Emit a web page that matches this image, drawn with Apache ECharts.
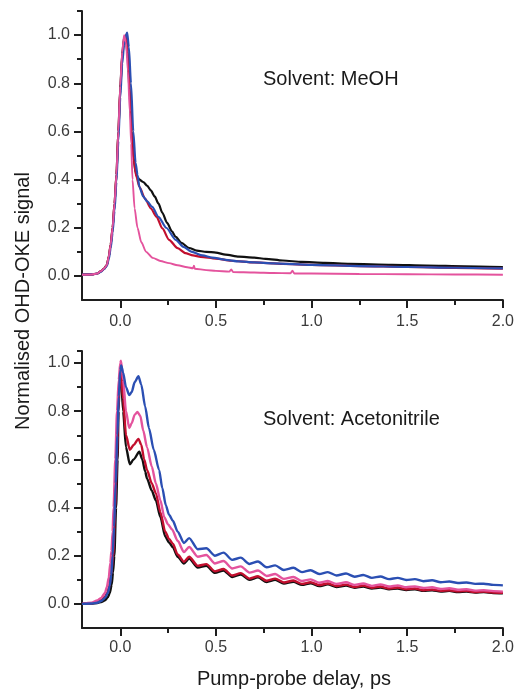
<!DOCTYPE html>
<html>
<head>
<meta charset="utf-8">
<script src="https://cdn.jsdelivr.net/npm/echarts@6/dist/echarts.min.js"></script>
<style>
  html, body { margin: 0; padding: 0; background: #fff; }
  #chart { width: 517px; height: 690px; }
</style>
</head>
<body>
<div id="chart"></div>
<script>
// OHD-OKE transients, [delay (ps), normalised signal]

// Methanol panel
const meohBlack = [[-0.2,0.005],[-0.15,0.006],[-0.12,0.01],[-0.1,0.02],[-0.085,0.03],[-0.07,0.045],[-0.06,0.08],[-0.05,0.13],[-0.04,0.2],[-0.03,0.3],[-0.02,0.42],[-0.01,0.6],[0.0,0.78],[0.01,0.92],[0.02,0.99],[0.03,0.98],[0.04,0.9],[0.05,0.74],[0.06,0.6],[0.07,0.49],[0.08,0.43],[0.09,0.41],[0.1,0.4],[0.12,0.39],[0.14,0.375],[0.16,0.355],[0.18,0.33],[0.2,0.3],[0.22,0.262],[0.245,0.22],[0.27,0.185],[0.29,0.162],[0.32,0.137],[0.36,0.116],[0.4,0.105],[0.45,0.1],[0.5,0.097],[0.55,0.088],[0.62,0.08],[0.7,0.076],[0.76,0.071],[0.85,0.064],[0.95,0.058],[1.07,0.054],[1.2,0.05],[1.42,0.046],[1.6,0.043],[1.8,0.04],[2.0,0.037]];
const meohRed = [[-0.2,0.005],[-0.15,0.006],[-0.12,0.01],[-0.1,0.02],[-0.085,0.03],[-0.07,0.045],[-0.06,0.08],[-0.05,0.13],[-0.04,0.2],[-0.03,0.3],[-0.02,0.42],[-0.01,0.6],[0.0,0.77],[0.01,0.91],[0.02,0.98],[0.03,1.0],[0.04,0.93],[0.05,0.78],[0.06,0.6],[0.07,0.48],[0.085,0.41],[0.1,0.37],[0.13,0.32],[0.16,0.28],[0.19,0.245],[0.22,0.197],[0.255,0.15],[0.3,0.115],[0.34,0.095],[0.38,0.085],[0.42,0.079],[0.5,0.072],[0.58,0.063],[0.7,0.056],[0.85,0.05],[1.0,0.046],[1.25,0.041],[1.5,0.037],[1.75,0.033],[2.0,0.03]];
const meohBlue = [[-0.2,0.005],[-0.15,0.006],[-0.12,0.01],[-0.1,0.018],[-0.085,0.028],[-0.07,0.042],[-0.06,0.07],[-0.05,0.115],[-0.04,0.18],[-0.03,0.27],[-0.02,0.39],[-0.01,0.56],[0.0,0.74],[0.01,0.88],[0.02,0.96],[0.03,1.0],[0.036,1.01],[0.045,0.95],[0.056,0.8],[0.068,0.6],[0.08,0.47],[0.09,0.42],[0.1,0.37],[0.12,0.33],[0.14,0.31],[0.167,0.287],[0.2,0.245],[0.24,0.2],[0.29,0.15],[0.33,0.121],[0.375,0.1],[0.43,0.085],[0.48,0.076],[0.55,0.067],[0.62,0.06],[0.7,0.056],[0.8,0.052],[1.0,0.046],[1.25,0.041],[1.5,0.037],[1.75,0.034],[2.0,0.031]];
const meohPink = [[-0.2,0.005],[-0.15,0.006],[-0.12,0.01],[-0.1,0.02],[-0.085,0.03],[-0.07,0.045],[-0.06,0.08],[-0.05,0.13],[-0.04,0.2],[-0.03,0.3],[-0.02,0.42],[-0.01,0.6],[0.0,0.79],[0.01,0.93],[0.02,1.0],[0.03,0.97],[0.04,0.85],[0.05,0.68],[0.057,0.55],[0.064,0.4],[0.075,0.28],[0.09,0.2],[0.11,0.14],[0.135,0.1],[0.17,0.075],[0.21,0.062],[0.255,0.053],[0.3,0.044],[0.35,0.036],[0.38,0.032],[0.385,0.042],[0.39,0.03],[0.45,0.024],[0.5,0.021],[0.57,0.018],[0.58,0.027],[0.59,0.016],[0.7,0.014],[0.8,0.012],[0.89,0.011],[0.9,0.022],[0.91,0.01],[1.0,0.01],[1.25,0.008],[1.5,0.007],[1.75,0.006],[2.0,0.005]];

// Acetonitrile panel
const acnBlack = [[-0.2,0.0],[-0.15,0.002],[-0.12,0.004],[-0.1,0.008],[-0.08,0.015],[-0.065,0.028],[-0.055,0.045],[-0.045,0.08],[-0.038,0.13],[-0.031,0.2],[-0.022,0.4],[-0.014,0.6],[-0.009,0.8],[-0.003,0.93],[0.003,0.96],[0.015,0.8],[0.03,0.65],[0.05,0.58],[0.07,0.6],[0.1,0.632],[0.115,0.6],[0.13,0.55],[0.14,0.52],[0.165,0.47],[0.186,0.43],[0.21,0.36],[0.235,0.28],[0.255,0.255],[0.275,0.235],[0.3,0.196],[0.333,0.168],[0.36,0.188],[0.405,0.151],[0.45,0.158],[0.495,0.129],[0.54,0.139],[0.585,0.112],[0.63,0.122],[0.675,0.1],[0.72,0.11],[0.765,0.091],[0.81,0.1],[0.855,0.085],[0.905,0.092],[0.95,0.079],[0.995,0.086],[1.04,0.074],[1.085,0.081],[1.13,0.07],[1.18,0.076],[1.225,0.067],[1.27,0.072],[1.315,0.064],[1.36,0.068],[1.405,0.061],[1.45,0.064],[1.495,0.058],[1.54,0.061],[1.585,0.054],[1.63,0.057],[1.675,0.051],[1.72,0.054],[1.765,0.049],[1.81,0.051],[1.855,0.047],[1.9,0.049],[1.95,0.045],[2.0,0.044]];
const acnRed = [[-0.2,0.0],[-0.15,0.003],[-0.12,0.008],[-0.1,0.015],[-0.08,0.03],[-0.068,0.045],[-0.058,0.07],[-0.048,0.12],[-0.037,0.2],[-0.027,0.4],[-0.018,0.6],[-0.011,0.8],[-0.004,0.93],[0.002,0.98],[0.015,0.85],[0.03,0.7],[0.05,0.64],[0.07,0.66],[0.095,0.685],[0.11,0.66],[0.125,0.6],[0.14,0.556],[0.165,0.5],[0.186,0.46],[0.21,0.38],[0.235,0.3],[0.255,0.27],[0.275,0.25],[0.3,0.205],[0.333,0.175],[0.36,0.196],[0.405,0.158],[0.45,0.165],[0.495,0.135],[0.54,0.145],[0.585,0.118],[0.63,0.128],[0.675,0.105],[0.72,0.115],[0.765,0.096],[0.81,0.105],[0.855,0.089],[0.905,0.097],[0.95,0.083],[0.995,0.09],[1.04,0.078],[1.085,0.085],[1.13,0.074],[1.18,0.08],[1.225,0.07],[1.27,0.076],[1.315,0.067],[1.36,0.072],[1.405,0.064],[1.45,0.068],[1.495,0.061],[1.54,0.064],[1.585,0.057],[1.63,0.06],[1.675,0.054],[1.72,0.057],[1.765,0.052],[1.81,0.054],[1.855,0.049],[1.9,0.051],[1.95,0.047],[2.0,0.046]];
const acnPink = [[-0.2,0.0],[-0.15,0.005],[-0.12,0.014],[-0.1,0.025],[-0.08,0.045],[-0.07,0.07],[-0.06,0.11],[-0.052,0.17],[-0.046,0.22],[-0.04,0.3],[-0.035,0.4],[-0.026,0.6],[-0.017,0.8],[-0.008,0.93],[0.0,1.0],[0.004,1.01],[0.015,0.93],[0.03,0.8],[0.047,0.73],[0.06,0.75],[0.075,0.785],[0.09,0.797],[0.105,0.78],[0.12,0.72],[0.14,0.65],[0.165,0.57],[0.186,0.5],[0.21,0.43],[0.23,0.36],[0.25,0.33],[0.27,0.31],[0.3,0.262],[0.333,0.215],[0.36,0.236],[0.405,0.196],[0.45,0.203],[0.495,0.168],[0.54,0.178],[0.585,0.147],[0.63,0.156],[0.675,0.13],[0.72,0.139],[0.765,0.116],[0.81,0.124],[0.855,0.104],[0.905,0.112],[0.95,0.095],[0.995,0.102],[1.04,0.088],[1.085,0.095],[1.13,0.083],[1.18,0.09],[1.225,0.079],[1.27,0.085],[1.315,0.075],[1.36,0.081],[1.405,0.072],[1.45,0.077],[1.495,0.069],[1.54,0.073],[1.585,0.066],[1.63,0.069],[1.675,0.062],[1.72,0.065],[1.765,0.059],[1.81,0.061],[1.855,0.055],[1.9,0.057],[1.95,0.053],[2.0,0.051]];
const acnBlue = [[-0.2,0.0],[-0.15,0.002],[-0.12,0.005],[-0.1,0.012],[-0.08,0.025],[-0.065,0.045],[-0.055,0.075],[-0.047,0.12],[-0.04,0.2],[-0.032,0.32],[-0.024,0.5],[-0.015,0.7],[-0.008,0.86],[0.0,0.97],[0.005,0.99],[0.015,0.96],[0.03,0.9],[0.047,0.867],[0.06,0.88],[0.075,0.92],[0.095,0.945],[0.11,0.91],[0.13,0.82],[0.15,0.73],[0.175,0.64],[0.203,0.556],[0.22,0.48],[0.238,0.41],[0.255,0.37],[0.275,0.345],[0.3,0.3],[0.333,0.253],[0.36,0.273],[0.405,0.227],[0.45,0.231],[0.495,0.2],[0.54,0.213],[0.585,0.183],[0.63,0.192],[0.675,0.166],[0.72,0.176],[0.765,0.152],[0.81,0.16],[0.855,0.141],[0.905,0.15],[0.95,0.132],[0.995,0.14],[1.04,0.124],[1.085,0.132],[1.13,0.118],[1.18,0.126],[1.225,0.113],[1.27,0.12],[1.315,0.108],[1.36,0.114],[1.405,0.103],[1.45,0.108],[1.495,0.099],[1.54,0.103],[1.585,0.094],[1.63,0.098],[1.675,0.09],[1.72,0.093],[1.765,0.087],[1.81,0.089],[1.855,0.083],[1.9,0.084],[1.95,0.079],[2.0,0.077]];

// Tick positions and labels
const xMajorTicks = [0, 0.5, 1.0, 1.5, 2.0];
const xMinorTicks = [0.25, 0.75, 1.25, 1.75];
const yMajorTicks = [0, 0.2, 0.4, 0.6, 0.8, 1.0];
const yMinorTicks = [0.1, 0.3, 0.5, 0.7, 0.9];
const panelLabels = ['Solvent: MeOH', 'Solvent: Acetonitrile'];
const xTitle = 'Pump-probe delay, ps';
const yTitle = 'Normalised OHD-OKE signal';

const FONT = '"Liberation Sans", Arial, Helvetica, sans-serif';
const AXIS_COLOR = '#1e1e1e';
const COLORS = { black: '#111111', red: '#c20f2e', blue: '#2b4fb3', pink: '#e4539d' };

function xAxes(grid, labelMargin) {
  return [
    {
      type: 'value', gridIndex: grid, min: -0.2, max: 2.0, position: 'bottom',
      axisLine: { show: true, onZero: false, lineStyle: { color: AXIS_COLOR, width: 2 } },
      axisTick: { show: true, customValues: xMajorTicks, length: 8, lineStyle: { color: AXIS_COLOR, width: 2 } },
      axisLabel: { show: true, customValues: xMajorTicks, margin: labelMargin, color: '#3a3a3a',
        fontSize: 16, fontFamily: FONT, formatter: v => v.toFixed(1) },
      splitLine: { show: false }
    },
    {
      type: 'value', gridIndex: grid, min: -0.2, max: 2.0, position: 'bottom',
      axisLine: { show: false, onZero: false },
      axisTick: { show: true, customValues: xMinorTicks, length: 5, lineStyle: { color: AXIS_COLOR, width: 2 } },
      axisLabel: { show: false },
      splitLine: { show: false }
    }
  ];
}

function yAxes(grid, maxVal) {
  return [
    {
      type: 'value', gridIndex: grid, min: -0.1, max: maxVal, position: 'left',
      axisLine: { show: true, onZero: false, lineStyle: { color: AXIS_COLOR, width: 2 } },
      axisTick: { show: true, customValues: yMajorTicks, length: 8, lineStyle: { color: AXIS_COLOR, width: 2 } },
      axisLabel: { show: true, customValues: yMajorTicks, margin: 12, color: '#3a3a3a',
        fontSize: 16, fontFamily: FONT, formatter: v => v.toFixed(1) },
      splitLine: { show: false }
    },
    {
      type: 'value', gridIndex: grid, min: -0.1, max: maxVal, position: 'left',
      axisLine: { show: false, onZero: false },
      axisTick: { show: true, customValues: yMinorTicks.concat([maxVal]), length: 5, lineStyle: { color: AXIS_COLOR, width: 2 } },
      axisLabel: { show: false },
      splitLine: { show: false }
    }
  ];
}

function line(data, color, xi, yi, width) {
  return {
    type: 'line', data: data, xAxisIndex: xi, yAxisIndex: yi,
    showSymbol: false, smooth: 0.25, smoothMonotone: 'x',
    lineStyle: { color: color, width: width || 2.2 },
    emphasis: { disabled: true }, silent: true, animation: false
  };
}

const chart = echarts.init(document.getElementById('chart'), null, { renderer: 'canvas' });
chart.setOption({
  backgroundColor: '#ffffff',
  animation: false,
  grid: [
    { left: 82, top: 11, width: 423, height: 289 },
    { left: 82, top: 351, width: 423, height: 277 }
  ],
  xAxis: xAxes(0, 14).concat(xAxes(1, 12)),
  yAxis: yAxes(0, 1.1).concat(yAxes(1, 1.05)),
  series: [
    line(meohBlack, COLORS.black, 0, 0),
    line(meohRed, COLORS.red, 0, 0),
    line(meohBlue, COLORS.blue, 0, 0),
    line(meohPink, COLORS.pink, 0, 0, 1.9),
    line(acnBlack, COLORS.black, 2, 2, 2.4),
    line(acnRed, COLORS.red, 2, 2, 2.4),
    line(acnPink, COLORS.pink, 2, 2, 2.4),
    line(acnBlue, COLORS.blue, 2, 2, 2.4)
  ],
  graphic: [
    { type: 'text', left: 263, top: 69, style: { text: panelLabels[0], font: '20px ' + FONT, fill: '#1a1a1a' } },
    { type: 'text', left: 263, top: 409, style: { text: panelLabels[1], font: '20px ' + FONT, fill: '#1a1a1a' } },
    { type: 'text', x: 294, y: 679, style: { text: xTitle, font: '20px ' + FONT, fill: '#1a1a1a', align: 'center', verticalAlign: 'middle' } },
    { type: 'text', x: 23, y: 301, rotation: Math.PI / 2, style: { text: yTitle, font: '20px ' + FONT, fill: '#1a1a1a', align: 'center', verticalAlign: 'middle' } }
  ]
});
</script>
</body>
</html>
